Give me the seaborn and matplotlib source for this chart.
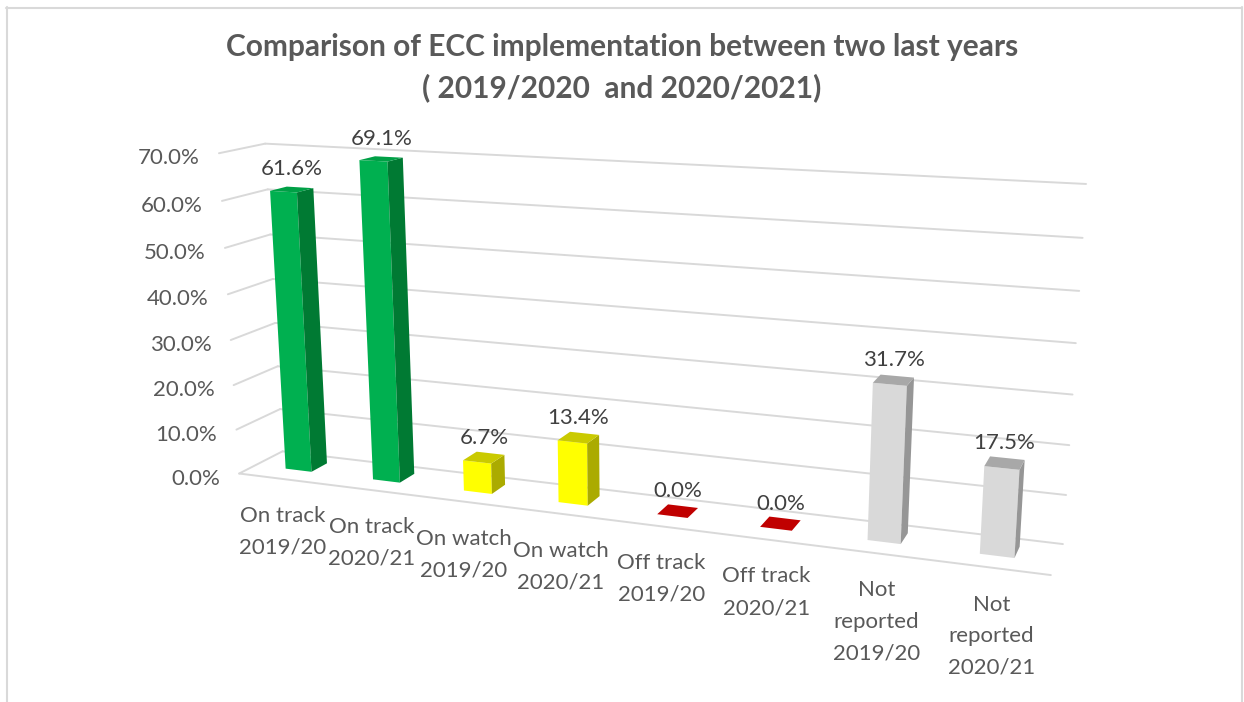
import numpy as np
import pandas as pd
import matplotlib
matplotlib.use("Agg")
import matplotlib.pyplot as plt
import matplotlib.transforms as mtransforms
from matplotlib.patches import Polygon
from matplotlib.lines import Line2D
import seaborn as sns

# ---- data ---------------------------------------------------------------
categories = [
    "On track\n2019/20", "On track\n2020/21",
    "On watch\n2019/20", "On watch\n2020/21",
    "Off track\n2019/20", "Off track\n2020/21",
    "Not\nreported\n2019/20", "Not\nreported\n2020/21",
]
values = [61.6, 69.1, 6.7, 13.4, 0.0, 0.0, 31.7, 17.5]
tick_values = [0, 10, 20, 30, 40, 50, 60, 70]
tick_labels = [f"{v:.1f}%" for v in tick_values]
value_labels = [f"{v:.1f}%" for v in values]

front_colors = ["#00B050", "#00B050", "#FFFF00", "#FFFF00",
                "#C00000", "#C00000", "#D9D9D9", "#D9D9D9"]
side_colors = ["#007A33", "#007A33", "#ABAB00", "#ABAB00",
               "#8A0000", "#8A0000", "#969696", "#969696"]
top_colors = ["#00A046", "#00A046", "#CACA00", "#CACA00",
              "#C00000", "#C00000", "#A8A8A8", "#A8A8A8"]

title = "Comparison of ECC implementation between two last years\n( 2019/2020  and 2020/2021)"

# ---- perspective camera for the 3-D column look -------------------------
W, H = 1244, 702
CAM = np.array([9.52, 5.29, -13.87])
YAW, PITCH = np.radians(-20.3), np.radians(14.5)
FOCAL, CX, CY = 1708.0, 650.0, 370.0
RIGHT = np.array([np.cos(YAW), 0.0, -np.sin(YAW)])
UP = np.array([np.sin(YAW) * np.sin(PITCH), np.cos(PITCH), np.cos(YAW) * np.sin(PITCH)])
FWD = np.array([np.sin(YAW) * np.cos(PITCH), -np.sin(PITCH), np.cos(YAW) * np.cos(PITCH)])

UNIT = 3.21 / 70.0      # world height of one percentage point
DEPTH = 0.8             # floor depth
BAR_W = 0.3             # bar width (category units)
Z0, Z1 = 0.3, 0.6       # front / back of the bars
N = len(categories)


def project(X, Y, Z):
    """World (x, height, depth) -> image pixels (origin top-left)."""
    X, Y, Z = np.broadcast_arrays(np.asarray(X, float), np.asarray(Y, float),
                                  np.asarray(Z, float))
    v = np.stack([X - CAM[0], Y - CAM[1], Z - CAM[2]], axis=-1)
    xc, yc, zc = v @ RIGHT, -(v @ UP), v @ FWD
    return CX + FOCAL * xc / zc, CY + FOCAL * yc / zc


class PlaneTransform(mtransforms.Transform):
    """Maps 2-D coordinates lying on a plane of the 3-D scene to display pixels."""
    input_dims = output_dims = 2
    is_separable = False
    has_inverse = False

    def __init__(self, to_world):
        super().__init__()
        self.to_world = to_world

    def transform_non_affine(self, values):
        values = np.asarray(values, float).reshape(-1, 2)
        X, Y, Z = self.to_world(values[:, 0], values[:, 1])
        px, py = project(X, Y, Z)
        return np.column_stack([px, H - py])


def const(a, c):
    return np.full_like(a, c)


back_wall = PlaneTransform(lambda x, v: (x, v * UNIT, const(x, DEPTH)))
left_wall = PlaneTransform(lambda z, v: (const(z, 0.0), v * UNIT, z))
floor_front = PlaneTransform(lambda x, v: (x, v * UNIT, const(x, 0.0)))
bar_front = PlaneTransform(lambda x, v: (x + 0.5, v * UNIT, const(x, Z0)))


def side_plane(xr):
    return PlaneTransform(lambda z, v: (const(z, xr + 0.5), v * UNIT, z))


def top_plane(h):
    return PlaneTransform(lambda x, z: (x + 0.5, const(x, h * UNIT), z))


# ---- figure -------------------------------------------------------------
sns.set_theme(style="white")
plt.rcParams["font.family"] = ["Lato", "DejaVu Sans"]

fig = plt.figure(figsize=(W / 100, H / 100), dpi=100)
fig.patch.set_facecolor("white")
ax = fig.add_axes([0, 0, 1, 1])
ax.set_axis_off()

GRID = "#D9D9D9"
for v in tick_values:
    ax.add_line(Line2D([0, N], [v, v], color=GRID, lw=1.4, transform=back_wall,
                       clip_on=False, zorder=1))
    ax.add_line(Line2D([0, DEPTH], [v, v], color=GRID, lw=1.4, transform=left_wall,
                       clip_on=False, zorder=1))
ax.add_line(Line2D([0, N], [0, 0], color=GRID, lw=1.4, transform=floor_front,
                   clip_on=False, zorder=1))

df = pd.DataFrame({"category": categories, "share": values})
sns.barplot(data=df, x="category", y="share", hue="category", palette=front_colors,
            width=BAR_W, saturation=1, legend=False, linewidth=0, ax=ax)

LABEL_SIZE = 16
bars = sorted(ax.patches, key=lambda p: p.get_x())
for i, p in enumerate(bars):
    xl, w, h = p.get_x(), p.get_width(), p.get_height()
    xr = xl + w
    p.set_transform(bar_front)
    p.set_clip_on(False)
    p.set_zorder(3)
    side = Polygon([(Z0, 0), (Z1, 0), (Z1, h), (Z0, h)], closed=True,
                   facecolor=side_colors[i], edgecolor="none",
                   transform=side_plane(xr), clip_on=False, zorder=3)
    top = Polygon([(xl, Z0), (xr, Z0), (xr, Z1), (xl, Z1)], closed=True,
                  facecolor=top_colors[i], edgecolor="none",
                  transform=top_plane(h), clip_on=False, zorder=3)
    ax.add_patch(side)
    ax.add_patch(top)

    # value label above the bar's top face
    tx, ty = project(xl + w / 2 + 0.5, h * UNIT, (Z0 + Z1) / 2)
    fig.text(float(tx) / W, 1 - (float(ty) - 14) / H, value_labels[i],
             ha="center", va="baseline", fontsize=LABEL_SIZE, color="#404040")

    # category label under the floor's front edge
    cx, cy = project(xl + w / 2 + 0.5, 0.0, 0.0)
    fig.text(float(cx) / W, 1 - (float(cy) + 27) / H, categories[i],
             ha="center", va="top", fontsize=LABEL_SIZE, color="#595959",
             linespacing=1.72, multialignment="center")

# value-axis tick labels along the left wall's front edge
for v, lab in zip(tick_values, tick_labels):
    tx, ty = project(0.0, v * UNIT, 0.0)
    fig.text((float(tx) - 19) / W, 1 - (float(ty) + 5) / H, lab,
             ha="right", va="center", fontsize=LABEL_SIZE, color="#595959")

fig.text(0.5, 1 - 33 / H, title, ha="center", va="top", fontsize=21.5,
         fontweight="bold", color="#595959", linespacing=1.5)

# chart area frame
frame_kw = dict(color=GRID, lw=1.5, transform=mtransforms.IdentityTransform())
fig.add_artist(Line2D([6.5, 6.5], [H - 7, -5], **frame_kw))
fig.add_artist(Line2D([6, 1242], [H - 7.5, H - 7.5], **frame_kw))
fig.add_artist(Line2D([1241.5, 1241.5], [H - 7, -5], **frame_kw))

fig.savefig("out.png", dpi=100)
